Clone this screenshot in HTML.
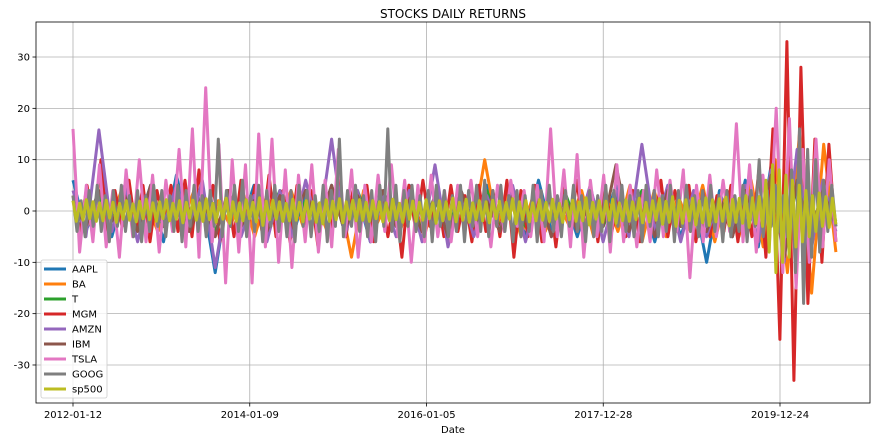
<!DOCTYPE html>
<html><head><meta charset="utf-8">
<style>
body{margin:0;background:#fff;font-family:"Liberation Sans","DejaVu Sans",sans-serif;}
svg text{font-family:"DejaVu Sans","Liberation Sans",sans-serif;}
</style></head>
<body>
<svg id="chart" width="879" height="441" xmlns="http://www.w3.org/2000/svg">
<defs><clipPath id="clip"><rect x="36" y="22" width="834" height="381"/></clipPath></defs>
<text x="453" y="18" font-size="12" text-anchor="middle">STOCKS DAILY RETURNS</text>
<g id="grid"></g>
<g id="series" clip-path="url(#clip)"></g>
<rect x="36" y="22" width="834" height="381" fill="none" stroke="#000" stroke-width="0.8"/>
<g id="axes"></g>
<text x="453" y="433" font-size="10" text-anchor="middle">Date</text>
<g id="legend"></g>
</svg>
<script>
const names=["AAPL","BA","T","MGM","AMZN","IBM","TSLA","GOOG","sp500"];
const colors=["#1f77b4","#ff7f0e","#2ca02c","#d62728","#9467bd","#8c564b","#e377c2","#7f7f7f","#bcbd22"];
const yTicks=[-30,-20,-10,0,10,20,30];
const xTickIdx=[0,500,1000,1500,2000];
const xTickLabels=["2012-01-12","2014-01-09","2016-01-05","2017-12-28","2019-12-24"];
const totalDays=2159;
const AAPL=[6,-4,3,-5,4,-3,5,-6,7,-4,3,-12,4,-3,5,-4,3,-5,4,-3,5,-4,3,-6,4,-3,5,-4,3,-5,4,-3,5,-4,3,-5,6,-4,3,-5,4,-3,5,-4,3,-6,4,-5,3,-10,4,-5,6,-7,9,-8,6,-5,4,-3];
const BA=[3,-4,2,-3,4,-3,2,-4,3,-2,4,-3,2,-3,4,-5,3,-2,4,-3,2,-4,3,-9,4,-3,2,-4,3,-5,4,-3,2,-4,10,-3,4,-5,3,-4,2,-3,4,-5,3,-4,5,-6,4,-5,3,-4,5,-6,4,-5,6,-7,10,-12,15,-16,13,-8];
const T=[2,-3,3,-2,4,-3,2,-3,3,-2,3,-4,2,-3,3,-2,4,-3,2,-3,3,-2,4,-3,2,-3,3,-4,2,-3,3,-2,4,-3,2,-3,3,-2,4,-3,2,-3,3,-2,4,-3,2,-3,3,-4,2,-3,3,-2,6,-7,5,-4,3,-2];
const MGM=[3,-4,5,-3,10,-5,4,-3,6,-4,5,-6,4,-3,5,-4,6,-5,8,-4,5,-6,4,-5,6,-3,5,-4,7,-5,4,-6,5,-3,4,-7,5,-4,6,-5,4,-3,5,-6,4,-5,3,-9,5,-4,6,-3,4,-5,5,-4,3,-6,5,-4,4,-5,6,-9,4,-5,5,-6,4,-7,5,-4,6,-5,4,-6,5,-4,3,-5,4,-6,5,-4,6,-5,4,-3,5,-6,4,-5,3,-4,5,-6,4,-5,8,-9,16,-25,33,-33,28,-18,14,-10,13,-6];
const AMZN=[4,-5,15.8,-4,5,-6,4,-3,5,-4,6,-11,4,-5,3,-6,4,-5,6,-4,14,-5,4,-6,3,-5,4,-6,9,-7,4,-5,3,-4,5,-6,4,-5,3,-4,5,-6,4,-5,13,-4,5,-6,4,-5,3,-4,5,-6,8,-10,12,-9,6,-4];
const IBM=[2,-3,4,-2,3,-4,5,-3,2,-4,3,-5,4,-3,2,-4,3,-2,4,-3,5,-4,3,-2,4,-3,2,-4,3,-5,4,-3,2,-4,3,-2,4,-5,3,-4,2,-3,9,-4,3,-5,4,-3,2,-4,3,-5,4,-3,7,-9,6,-5,4,-3];
const TSLA=[16,-8,5,-6,9,-7,4,-9,8,-5,10,-6,7,-8,6,-4,12,-7,16,-9,24,-6,13,-14,10,-8,9,-14,15,-7,14,-10,8,-11,7,-6,9,-8,6,-7,12,-5,8,-9,5,-6,7,-4,9,-5,6,-10,5,-6,7,-5,4,-6,5,-4,6,-5,4,-7,5,-4,6,-3,4,-5,5,-6,16,-5,8,-7,11,-9,6,-5,7,-8,9,-6,5,-7,4,-6,8,-5,6,-4,8,-13,5,-6,7,-5,6,-4,17,-6,9,-8,7,-6,20,-12,18,-15,12,-10,14,-7,10,-6];
const GOOG=[3,-4,2,-5,4,-3,5,-4,3,-6,4,-3,5,-4,3,-5,4,-6,3,-4,5,-3,4,-5,3,-4,5,-6,4,-3,5,-4,3,-5,4,-3,14,-5,4,-3,5,-4,6,-5,3,-4,5,-6,4,-3,5,-4,3,-5,4,-6,5,-3,4,-5,3,-4,5,-6,4,-3,14,-5,4,-3,5,-4,3,-5,4,-6,5,-3,16,-4,5,-6,4,-3,5,-4,3,-5,4,-6,5,-3,4,-5,3,-4,5,-6,4,-3,5,-4,6,-5,4,-3,5,-4,3,-6,4,-5,3,-4,5,-6,4,-3,5,-4,3,-5,4,-3,5,-4,3,-6,4,-5,3,-4,5,-6,4,-3,5,-4,3,-5,4,-6,5,-3,4,-5,3,-4,5,-6,4,-3,5,-4,3,-5,4,-3,5,-4,3,-6,4,-5,3,-4,5,-6,4,-3,10,-5,4,-3,5,-4,3,-5,8,-12,16,-18,12,-9,10,-8,6,-4,5,-3];
const sp500=[2,-2,1.5,-1.8,2.2,-1.5,1.8,-2,1.6,-1.9,2.1,-1.4,1.7,-2.2,1.5,-1.6,2,-1.8,1.4,-2.1,1.9,-1.5,2.3,-1.7,1.6,-2,1.8,-1.5,2.2,-1.9,1.5,-1.6,2,-2.3,1.7,-1.4,2.1,-1.8,1.6,-2,2.4,-1.7,1.5,-2.2,1.9,-1.6,2.5,-2.4,1.8,-2,1.6,-1.9,2.2,-1.5,1.7,-2.1,2.6,-2.8,1.9,-1.7,2.1,-1.6,1.8,-2,1.5,-1.9,2.3,-1.8,1.7,-2.1,2,-1.6,1.8,-2.2,1.6,-2.5,2.2,-2,1.9,-1.7,2.4,-2.3,1.8,-1.6,2.1,-1.9,2.2,-1.8,1.7,-2,2,-1.5,1.8,-2.1,1.6,-1.9,2.3,-1.7,1.5,-2.2,2.1,-1.6,1.9,-2,1.7,-1.8,2.2,-1.5,1.6,-2.4,2,-1.9,1.8,-1.6,2.5,-2.1,1.7,-1.8,2.3,-2.2,1.6,-1.7,2,-1.9,1.8,-2.3,2.1,-1.5,1.9,-2,1.7,-1.6,2.4,-2.5,1.8,-1.7,2,-2.1,1.6,-1.9,2.2,-1.8,1.7,-2,2.3,-1.6,1.5,-2.2,1.9,-1.7,2.1,-2,1.8,-1.9,2.6,-2.7,1.7,-1.6,2,-2.2,1.9,-1.8,2.3,-2.4,1.6,-1.9,2.2,-2,1.8,-1.7,2.5,-2.3,1.7,-2.1,2,-1.8,2.4,-2.6,1.9,-2.2,2.8,-3,2.1,-2.4,2.2,-1.9,2.5,-2.7,2,-2.3,2.6,-2.8,2.2,-2.1,2.4,-2,2.7,-2.9,2.3,-2.2,2.5,-2.4,3,-3.2,2.6,-2.5,2.8,-3,6,-8,9,-12,8,-10,7,-9,6,-7,5,-6,4,-5,3,-4,3.5,-3,2.8,-3.2,2.5,-2.6];
const seriesData=[AAPL,BA,T,MGM,AMZN,IBM,TSLA,GOOG,sp500];
const NS="http://www.w3.org/2000/svg";
const x=d=>73+d*(707/2000);
const y=v=>211-v*5.133;
const grid=document.getElementById('grid'),axes=document.getElementById('axes');
function mk(tag,attrs,parent){const e=document.createElementNS(NS,tag);for(const k in attrs)e.setAttribute(k,attrs[k]);parent.appendChild(e);return e;}
yTicks.forEach(v=>{
  const g=mk('line',{x1:36,x2:870,y1:y(v),y2:y(v),stroke:'#b0b0b0','stroke-width':0.8},grid);
  
  
  mk('line',{x1:32.5,x2:36,y1:y(v),y2:y(v),stroke:'#000','stroke-width':0.8},axes);
  const t=mk('text',{x:30,y:y(v)+3.5,'font-size':10,'text-anchor':'end'},axes);
  t.textContent=v;
  
  
});
xTickIdx.forEach((d,i)=>{
  const g=mk('line',{x1:x(d),x2:x(d),y1:22,y2:403,stroke:'#b0b0b0','stroke-width':0.8},grid);
  
  
  mk('line',{x1:x(d),x2:x(d),y1:403,y2:406.5,stroke:'#000','stroke-width':0.8},axes);
  const t=mk('text',{x:x(d),y:418,'font-size':10,'text-anchor':'middle'},axes);
  t.textContent=xTickLabels[i];
  
  
});
const sg=document.getElementById('series');
seriesData.forEach((arr,si)=>{
  const n=arr.length;
  const pts=arr.map((v,i)=>x(i*(totalDays-1)/(n-1)).toFixed(1)+','+y(v).toFixed(1)).join(' ');
  const p=mk('polyline',{points:pts,fill:'none',stroke:colors[si],'stroke-width':3,'stroke-linejoin':'round'},sg);
  
  
});
const lg=document.getElementById('legend');
const box=mk('rect',{x:41,y:260,width:66,height:138,rx:2,fill:'#fff','fill-opacity':0.8,stroke:'#ccc','stroke-width':0.8},lg);


names.forEach((nm,i)=>{
  const yy=269+i*15;
  const l=mk('line',{x1:44,x2:66,y1:yy,y2:yy,stroke:colors[i],'stroke-width':3},lg);
  
  
  const t=mk('text',{x:72,y:yy+3.5,'font-size':10},lg);
  t.textContent=nm;
  
  
});
</script>
</body></html>
